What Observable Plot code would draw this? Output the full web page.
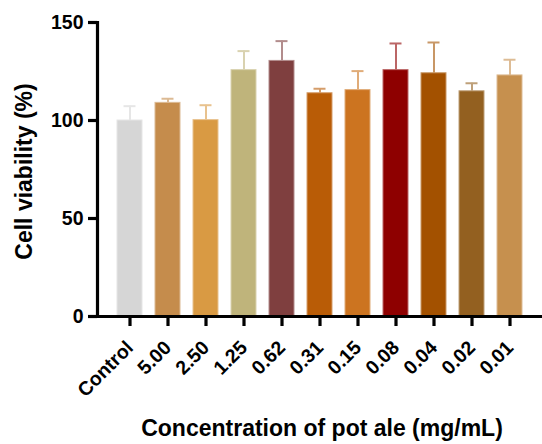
<!DOCTYPE html>
<html><head><meta charset="utf-8">
<script src="https://cdn.jsdelivr.net/npm/d3@7"></script>
<script src="https://cdn.jsdelivr.net/npm/@observablehq/plot@0.6"></script>
<style>body{margin:0;background:#fff}</style>
</head><body><div id="chart"></div>
<script>
const categories = ["Control", "5.00", "2.50", "1.25", "0.62", "0.31", "0.15", "0.08", "0.04", "0.02", "0.01"];
const means = [100.0, 109.0, 100.2, 125.7, 130.4, 113.9, 115.5, 125.7, 124.1, 114.9, 123.0];
const sds = [7.3, 2.1, 7.6, 9.7, 10.1, 2.3, 9.7, 13.6, 15.7, 4.1, 8.0];
const colors = ["#d6d6d6", "#c58c4c", "#d99a43", "#bfb47b", "#7f3f3f", "#b95c06", "#cc7420", "#8e0000", "#a35100", "#936020", "#c6904e"];
const yTicks = [0, 50, 100, 150];
const yTitle = "Cell viability (%)";
const xTitle = "Concentration of pot ale (mg/mL)";

const data = categories.map((c, i) => ({
  c, m: means[i], sd: sds[i], color: colors[i],
  light: d3.interpolateRgb(colors[i], "#fff")(0.4)
}));
const font = "'Liberation Sans', Arial, sans-serif";
const chart = Plot.plot({
  width: 542, height: 444, marginLeft: 97, marginRight: 0, marginTop: 22, marginBottom: 128,
  style: {fontFamily: font, background: "#fff", color: "#000"},
  x: {domain: categories, paddingInner: 0.33, paddingOuter: 0.38},
  y: {domain: [0, 150]},
  marks: [
    Plot.ruleX(data, {x: "c", y1: "m", y2: d => d.m + d.sd, stroke: "light", strokeWidth: 2}),
    Plot.tickY(data, {x: "c", y: d => d.m + d.sd, stroke: "light", strokeWidth: 2, insetLeft: 6.5, insetRight: 6.5}),
    Plot.barY(data, {x: "c", y: "m", fill: "color", stroke: "light", strokeWidth: 1}),
    Plot.frame({anchor: "left", stroke: "#000", strokeWidth: 3.2}),
    Plot.ruleY([0], {stroke: "#000", strokeWidth: 3.2}),
    Plot.axisY({ticks: yTicks, tickSize: 9, tickPadding: 5, stroke: "#000", strokeWidth: 3.2, fontSize: 19.5, fontWeight: "bold", label: null}),
    Plot.axisX({tickRotate: -45, tickSize: 10, tickPadding: 18, stroke: "#000", strokeWidth: 3.2, fontSize: 19.5, fontWeight: "bold", label: null}),
    Plot.text([yTitle], {text: d => d, frameAnchor: "left", textAnchor: "middle", rotate: -90, dx: -73, dy: 2, fontSize: 23, fontWeight: "bold", letterSpacing: 0.8}),
    Plot.text([xTitle], {text: d => d, frameAnchor: "bottom", textAnchor: "middle", dy: 119, dx: 2, fontSize: 23, fontWeight: "bold", letterSpacing: 1.5})
  ]
});
document.getElementById("chart").append(chart);
</script>
</body></html>
